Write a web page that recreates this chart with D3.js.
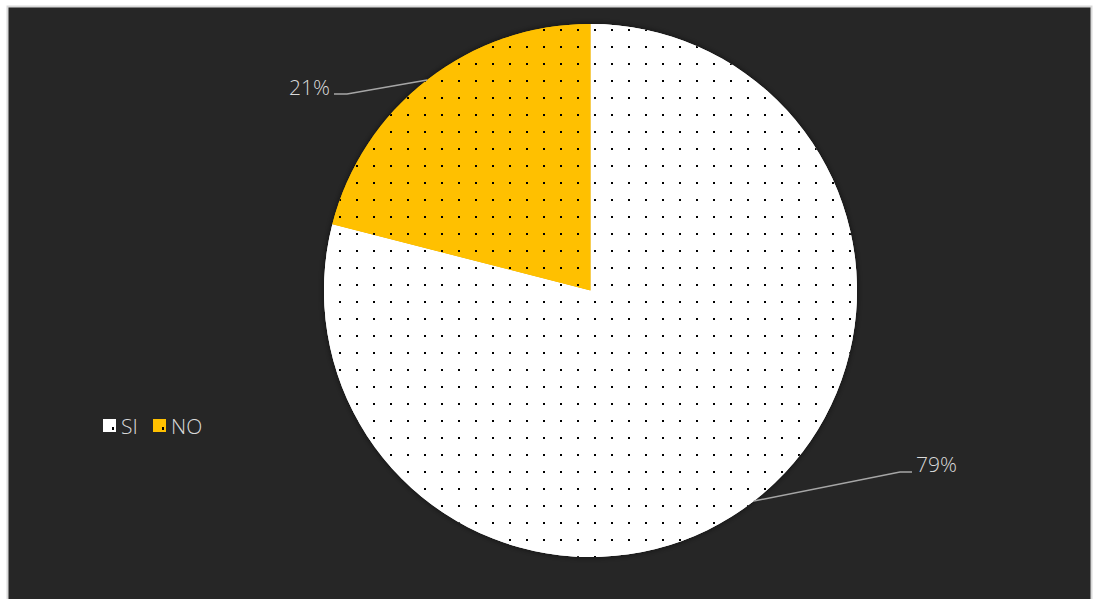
<!DOCTYPE html>
<html>
<head>
<meta charset="utf-8">
<script src="https://cdn.jsdelivr.net/npm/d3@7"></script>
<style>
  html, body { margin: 0; padding: 0; background: #ffffff; }
  svg { display: block; }
</style>
</head>
<body>
<svg id="chart" width="1093" height="599"></svg>
<script>
// Survey answers and their shares (percent)
const categories = ["SI", "NO"];
const shares = [79, 21];
const labels = ["79%", "21%"];
const colors = ["#ffffff", "#ffc000"];

const W = 1093, H = 599;
const svg = d3.select("#chart");
const FONT = "'Open Sans', 'Noto Sans', sans-serif";

// Chart frame
svg.append("rect").attr("x", 0).attr("y", 0).attr("width", W).attr("height", H).attr("fill", "#ffffff");
svg.append("rect")
  .attr("x", 7.5).attr("y", 6.5).attr("width", 1084).attr("height", 600)
  .attr("fill", "#262626").attr("stroke", "#d9d9d9").attr("stroke-width", 2);

const defs = svg.append("defs");

const cx = 590.5, cy = 290.5, r = 266.5;

// Dotted fill patterns, one per slice colour (anchored to page grid)
colors.forEach((c, i) => {
  const p = defs.append("pattern")
    .attr("id", "dots" + i)
    .attr("patternUnits", "userSpaceOnUse")
    .attr("x", 560 - cx).attr("y", 29 - cy)
    .attr("width", 17).attr("height", 17);
  p.append("rect").attr("width", 17).attr("height", 17).attr("fill", c);
  p.append("rect").attr("x", 0).attr("y", 0).attr("width", 2).attr("height", 2).attr("fill", "#000000");
});

// Soft shadow round the pie
const f = defs.append("filter").attr("id", "shadow")
  .attr("x", "-10%").attr("y", "-10%").attr("width", "120%").attr("height", "120%");
f.append("feDropShadow").attr("dx", 0).attr("dy", 0).attr("stdDeviation", 3)
  .attr("flood-color", "#000000").attr("flood-opacity", 0.6);

const pie = d3.pie().sort(null).value(d => d)(shares);
const arc = d3.arc().innerRadius(0).outerRadius(r);

const g = svg.append("g").attr("transform", `translate(${cx},${cy})`);
g.append("g").attr("filter", "url(#shadow)")
  .selectAll("path").data(pie).join("path")
  .attr("d", arc)
  .attr("fill", (d, i) => colors[i]);
g.append("g")
  .selectAll("path").data(pie).join("path")
  .attr("d", arc)
  .attr("fill", (d, i) => `url(#dots${i})`);

// Leader lines (from the slice's mid-angle on the rim) and data labels
const leaders = [
  { bend: [900, 472], end: [912, 472], text: [916, 464], anchor: "start" },
  { bend: [347, 94], end: [334, 94], text: [330, 87], anchor: "end" }
];
pie.forEach((d, i) => {
  const L = leaders[i];
  const a = (d.startAngle + d.endAngle) / 2;
  const px = cx + r * Math.sin(a), py = cy - r * Math.cos(a);
  svg.append("polyline")
    .attr("points", [[px, py], L.bend, L.end].map(p => p.join(",")).join(" "))
    .attr("fill", "none").attr("stroke", "#a6a6a6").attr("stroke-width", 1.6);
  svg.append("text")
    .attr("x", L.text[0]).attr("y", L.text[1])
    .attr("text-anchor", L.anchor)
    .attr("dominant-baseline", "central")
    .attr("font-family", FONT)
    .attr("font-weight", 300)
    .attr("font-size", 21)
    .attr("fill", "#d9d9d9")
    .text(labels[i]);
});

// Legend
const leg = svg.append("g").attr("transform", "translate(103,426)");
let lx = 0;
categories.forEach((c, i) => {
  leg.append("rect").attr("x", lx).attr("y", -7).attr("width", 13).attr("height", 13).attr("fill", colors[i]);
  leg.append("rect").attr("x", lx + 9).attr("y", 1).attr("width", 2).attr("height", 3).attr("fill", "#000");
  leg.append("text")
    .attr("x", lx + 18).attr("y", 0)
    .attr("dominant-baseline", "central")
    .attr("font-family", FONT)
    .attr("font-weight", 300)
    .attr("font-size", 21)
    .attr("fill", "#d9d9d9")
    .text(c);
  lx += 50;
});
</script>
</body>
</html>
